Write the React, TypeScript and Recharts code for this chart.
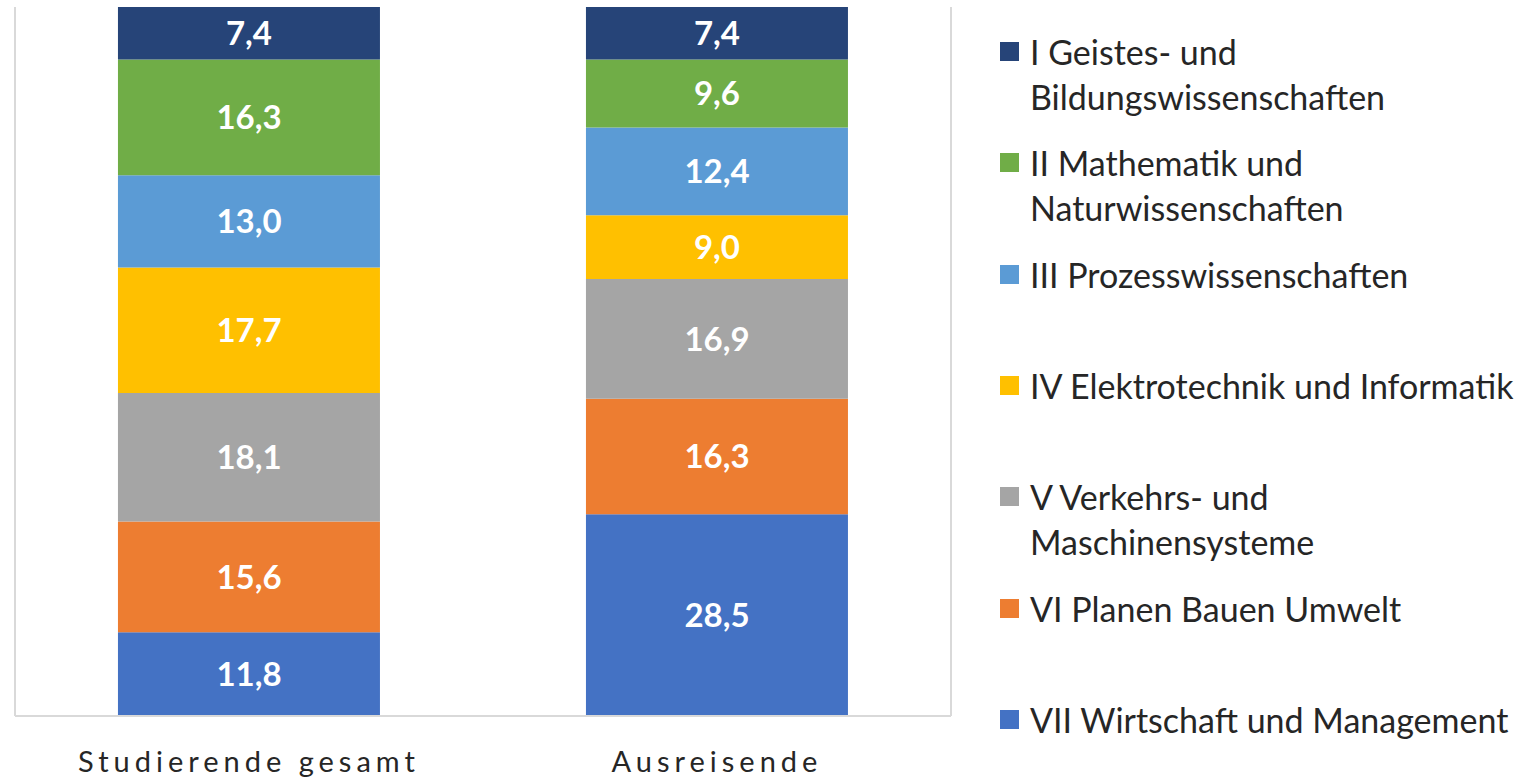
import React from 'react';
import { BarChart, Bar, XAxis, YAxis, ReferenceLine, LabelList } from 'recharts';

const categories = ['Studierende gesamt', 'Ausreisende'];

// bottom → top stacking order
const wirtschaft = [11.8, 28.5];
const planen = [15.6, 16.3];
const verkehr = [18.1, 16.9];
const elektro = [17.7, 9.0];
const prozess = [13.0, 12.4];
const mathe = [16.3, 9.6];
const geistes = [7.4, 7.4];

const seriesKeys = ['wirtschaft', 'planen', 'verkehr', 'elektro', 'prozess', 'mathe', 'geistes'];
const seriesValues = [wirtschaft, planen, verkehr, elektro, prozess, mathe, geistes];
const seriesColors = ['#4472C4', '#ED7D31', '#A5A5A5', '#FFC000', '#5B9BD5', '#70AD47', '#264478'];

// legend (top → bottom)
const legendKeys = ['geistes', 'mathe', 'prozess', 'elektro', 'verkehr', 'planen', 'wirtschaft'];
const legendLines = [
  ['I Geistes- und', 'Bildungswissenschaften'],
  ['II Mathematik und', 'Naturwissenschaften'],
  ['III Prozesswissenschaften'],
  ['IV Elektrotechnik und Informatik'],
  ['V Verkehrs- und', 'Maschinensysteme'],
  ['VI Planen Bauen Umwelt'],
  ['VII Wirtschaft und Management'],
];

const gridTicks = [0, 1, 2];

const data = categories.map((c, i) => {
  const row: Record<string, any> = { name: c };
  seriesKeys.forEach((k, j) => {
    row[k] = seriesValues[j][i];
  });
  return row;
});

const FONT = 'Lato, "Open Sans", sans-serif';

const fmt = (v: any) => Number(v).toFixed(1).replace('.', ',');

const Tick = (props: any) => {
  const { x, y, payload } = props;
  return (
    <text
      x={x}
      y={y + 48}
      textAnchor="middle"
      fontFamily={FONT}
      fontSize={29}
      letterSpacing={5}
      fill="#262626"
    >
      {payload.value}
    </text>
  );
};

export default function App() {
  const colorOf = (k: string) => seriesColors[seriesKeys.indexOf(k)];
  return (
    <div style={{ position: 'absolute', left: 0, top: 0, width: 1524, height: 779, background: '#fff', fontFamily: FONT }}>
      <BarChart
        width={1524}
        height={779}
        data={data}
        stackOffset="expand"
        barCategoryGap="22%"
        margin={{ top: 7, right: 573, bottom: 0, left: 15 }}
      >
        <XAxis xAxisId="grid" type="number" domain={[0, 2]} ticks={gridTicks} hide />
        <XAxis
          dataKey="name"
          height={63}
          axisLine={{ stroke: '#d9d9d9', strokeWidth: 2 }}
          tickLine={false}
          tick={<Tick />}
          interval={0}
        />
        <YAxis hide domain={[0, 1]} />
        {gridTicks.map((t) => (
          <ReferenceLine key={t} xAxisId="grid" x={t} stroke="#d9d9d9" strokeWidth={2} />
        ))}
        {seriesKeys.map((k, j) => (
          <Bar key={k} dataKey={k} stackId="a" fill={seriesColors[j]} isAnimationActive={false}>
            <LabelList
              dataKey={k}
              position="center"
              formatter={fmt}
              fill="#ffffff"
              fontFamily={FONT}
              fontWeight="bold"
              fontSize={33}
            />
          </Bar>
        ))}
      </BarChart>
      {legendKeys.map((k, i) => (
        <div
          key={k}
          style={{
            position: 'absolute',
            left: 1000,
            top: 51 + i * 111.3 - 22,
            display: 'flex',
            alignItems: 'flex-start',
            fontFamily: FONT,
            fontSize: 34,
            lineHeight: '45px',
            color: '#262626',
            whiteSpace: 'nowrap',
          }}
        >
          <div style={{ width: 19, height: 19, background: colorOf(k), marginTop: 13, marginRight: 11 }} />
          <div>
            {legendLines[i].map((l, m) => (
              <div key={m}>{l}</div>
            ))}
          </div>
        </div>
      ))}
    </div>
  );
}
